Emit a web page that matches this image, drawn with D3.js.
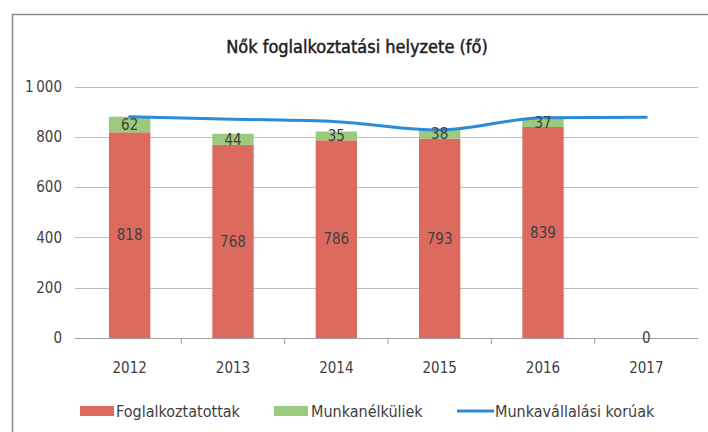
<!DOCTYPE html>
<html>
<head>
<meta charset="utf-8">
<script src="https://cdn.jsdelivr.net/npm/d3@7"></script>
<style>
  html, body { margin: 0; padding: 0; background: #fff; }
  svg { display: block; }
  text { font-family: "Liberation Sans Narrow", "DejaVu Sans Condensed", "Liberation Sans", sans-serif; }
</style>
</head>
<body>
<svg id="chart" width="708" height="432"></svg>
<script>
const years = ["2012", "2013", "2014", "2015", "2016", "2017"];
const employed = [818, 768, 786, 793, 839, 0];
const unemployed = [62, 44, 35, 38, 37, 0];
const workingAge = [880, 870, 860, 827, 876, 878];
const yTicks = [0, 200, 400, 600, 800, 1000];
const seriesNames = ["Foglalkoztatottak", "Munkanélküliek", "Munkavállalási korúak"];
const title = "Nők foglalkoztatási helyzete (fő)";

const colors = { red: "#dd6a5f", green: "#9cca7c", blue: "#2b8bd6" };

const svg = d3.select("#chart");
const W = 708, H = 432;
const m = { left: 78, right: 10, top: 86.5, bottom: 94 };
const x0 = m.left, x1 = W - m.right, yTop = m.top, yBot = H - m.bottom;

// frame
svg.append("path")
  .attr("d", `M12.5,${H + 5} L12.5,14.5 L${W + 5},14.5`)
  .attr("fill", "none").attr("stroke", "#8a8a8a").attr("stroke-width", 1.5);

const x = d3.scaleBand().domain(years).range([x0, x1]).paddingInner(0.6).paddingOuter(0.3);
const xb = d3.scaleBand().domain(years).range([x0, x1]);
const y = d3.scaleLinear().domain([0, 1000]).range([yBot, yTop]);

// gridlines
svg.append("g").selectAll("line").data(yTicks.filter(d => d > 0)).join("line")
  .attr("x1", x0 - 3).attr("x2", x1)
  .attr("y1", d => Math.round(y(d)) + 0.5).attr("y2", d => Math.round(y(d)) + 0.5)
  .attr("stroke", "#bdbdbd").attr("stroke-width", 1);

// y tick labels
svg.append("g").selectAll("text").data(yTicks).join("text")
  .attr("x", 62).attr("y", d => y(d)).attr("dy", "0.35em")
  .attr("text-anchor", "end").attr("font-size", 15).attr("fill", "#404040")
  .text(d => d3.format(",")(d).replace(",", "\u2009"));

// stacked bars
const stackData = years.map((yr, i) => ({ year: yr, emp: employed[i], unemp: unemployed[i] }));
const stack = d3.stack().keys(["emp", "unemp"])(stackData);
const fills = [colors.red, colors.green];
stack.forEach((layer, li) => {
  svg.append("g").selectAll("rect").data(layer).join("rect")
    .attr("x", d => x(d.data.year))
    .attr("width", x.bandwidth())
    .attr("y", d => y(d[1]))
    .attr("height", d => y(d[0]) - y(d[1]))
    .attr("fill", fills[li]);
});

// x axis line
svg.append("line").attr("x1", x0 - 3).attr("x2", x1)
  .attr("y1", Math.round(yBot) + 0.5).attr("y2", Math.round(yBot) + 0.5)
  .attr("stroke", "#a0a0a0").attr("stroke-width", 1);
// category boundary ticks
svg.append("g").selectAll("line").data(years.slice(1)).join("line")
  .attr("x1", d => xb(d)).attr("x2", d => xb(d))
  .attr("y1", yBot).attr("y2", yBot + 6)
  .attr("stroke", "#a0a0a0");

// x labels
svg.append("g").selectAll("text").data(years).join("text")
  .attr("x", d => xb(d) + xb.bandwidth() / 2).attr("y", yBot + 35)
  .attr("text-anchor", "middle").attr("font-size", 15).attr("fill", "#404040")
  .text(d => d);

// line series
const line = d3.line().x((d, i) => xb(years[i]) + xb.bandwidth() / 2).y(d => y(d)).curve(d3.curveMonotoneX);
svg.append("path").datum(workingAge).attr("d", line)
  .attr("fill", "none").attr("stroke", colors.blue).attr("stroke-width", 3).attr("stroke-linecap", "round");

// data labels: employed (center of segment)
svg.append("g").selectAll("text").data(stack[0]).join("text")
  .attr("x", d => x(d.data.year) + x.bandwidth() / 2)
  .attr("y", d => y((d[0] + d[1]) / 2)).attr("dy", "0.35em")
  .attr("text-anchor", "middle").attr("font-size", 15).attr("fill", "#404040")
  .text(d => d.data.emp);
// unemployed labels (skip zero)
svg.append("g").selectAll("text").data(stack[1].filter(d => d.data.unemp > 0)).join("text")
  .attr("x", d => x(d.data.year) + x.bandwidth() / 2)
  .attr("y", d => y((d[0] + d[1]) / 2)).attr("dy", "0.35em")
  .attr("text-anchor", "middle").attr("font-size", 15).attr("fill", "#404040")
  .text(d => d.data.unemp);

// title
svg.append("text").attr("x", 357).attr("y", 47).attr("dy", "0.35em")
  .attr("text-anchor", "middle").attr("font-size", 18).attr("font-weight", "normal").attr("fill", "#202020")
  .attr("stroke", "#202020").attr("stroke-width", 0.45)
  .text(title);

// legend
const legY = 411;
const legend = [
  { name: seriesNames[0], type: "rect", color: colors.red, sx: 80, tx: 116 },
  { name: seriesNames[1], type: "rect", color: colors.green, sx: 274, tx: 311 },
  { name: seriesNames[2], type: "line", color: colors.blue, sx: 457, tx: 495 }
];
legend.forEach(l => {
  if (l.type === "rect") {
    svg.append("rect").attr("x", l.sx).attr("y", legY - 5).attr("width", 34).attr("height", 10).attr("fill", l.color);
  } else {
    svg.append("line").attr("x1", l.sx).attr("x2", l.sx + 37).attr("y1", legY).attr("y2", legY)
      .attr("stroke", l.color).attr("stroke-width", 3);
  }
  svg.append("text").attr("x", l.tx).attr("y", legY).attr("dy", "0.35em")
    .attr("font-size", 16).attr("fill", "#404040").text(l.name);
});
</script>
</body>
</html>
